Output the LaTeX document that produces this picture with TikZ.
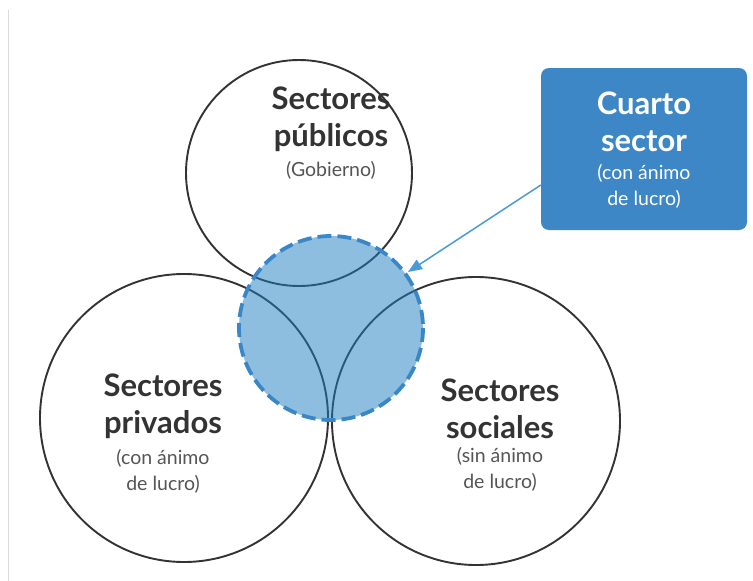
\documentclass[tikz,border=0pt]{standalone}
\usepackage{fontspec}
\setmainfont{Lato}
\usetikzlibrary{arrows.meta,positioning}
\definecolor{cuartoazul}{HTML}{3D87C6}
\definecolor{rellenoazul}{HTML}{1B7EC2}
\definecolor{bordeazul}{HTML}{3A87C8}
\definecolor{flechaazul}{HTML}{4A9AD6}
\definecolor{textogris}{HTML}{333333}
\definecolor{notagris}{HTML}{555555}

\begin{document}
\begin{tikzpicture}[x=1pt,y=-1pt,
sector/.style={circle,draw=black!80,line width=1.9pt,inner sep=0pt},
titulo/.style={font=\bfseries\fontsize{31}{37}\selectfont,text=textogris,align=center},
nota/.style={font=\fontsize{19.5}{26}\selectfont,text=notagris,align=center}]

\useasboundingbox (0,0) rectangle (753,581);
\draw[black!15,line width=1pt] (8,10)--(8,581);

% los tres sectores
\node[sector,minimum size=226] (publico) at (299,173) {};
\node[sector,minimum size=288] (privado) at (184,418) {};
\node[sector,minimum size=288] (social) at (476,421) {};

% interseccion
\fill[rellenoazul,opacity=0.5] (331,328) circle (92);
\draw[bordeazul,line width=3.8pt,dash pattern=on 14pt off 6pt] (331,328) circle (92);

% textos
\node[titulo] (pubtit) at (331,119) {Sectores\\públicos};
\node[nota] (pubnota) at (331,170) {(Gobierno)};
\node[titulo] (privtit) at (163,406) {Sectores\\privados};
\node[nota] (privnota) at (163,471) {(con ánimo\\de lucro)};
\node[titulo] (soctit) at (500,409) {Sectores\\sociales};
\node[nota] (socnota) at (500,469) {(sin ánimo\\de lucro)};

% cuarto sector
\node[fill=cuartoazul,rounded corners=8pt,minimum width=206,minimum height=162] (cuarto) at (644,149) {};
\node[titulo,text=white] (cuartotit) at (644,122) {Cuarto\\sector};
\node[nota,text=white] (cuartonota) at (644,186) {(con ánimo\\de lucro)};

\coordinate (punta) at (408,272);
\draw[flechaazul,line width=1.5pt,-{Triangle[length=14pt,width=11pt]}] ([yshift=-36pt]cuarto.west)--(punta);
\end{tikzpicture}
\end{document}
